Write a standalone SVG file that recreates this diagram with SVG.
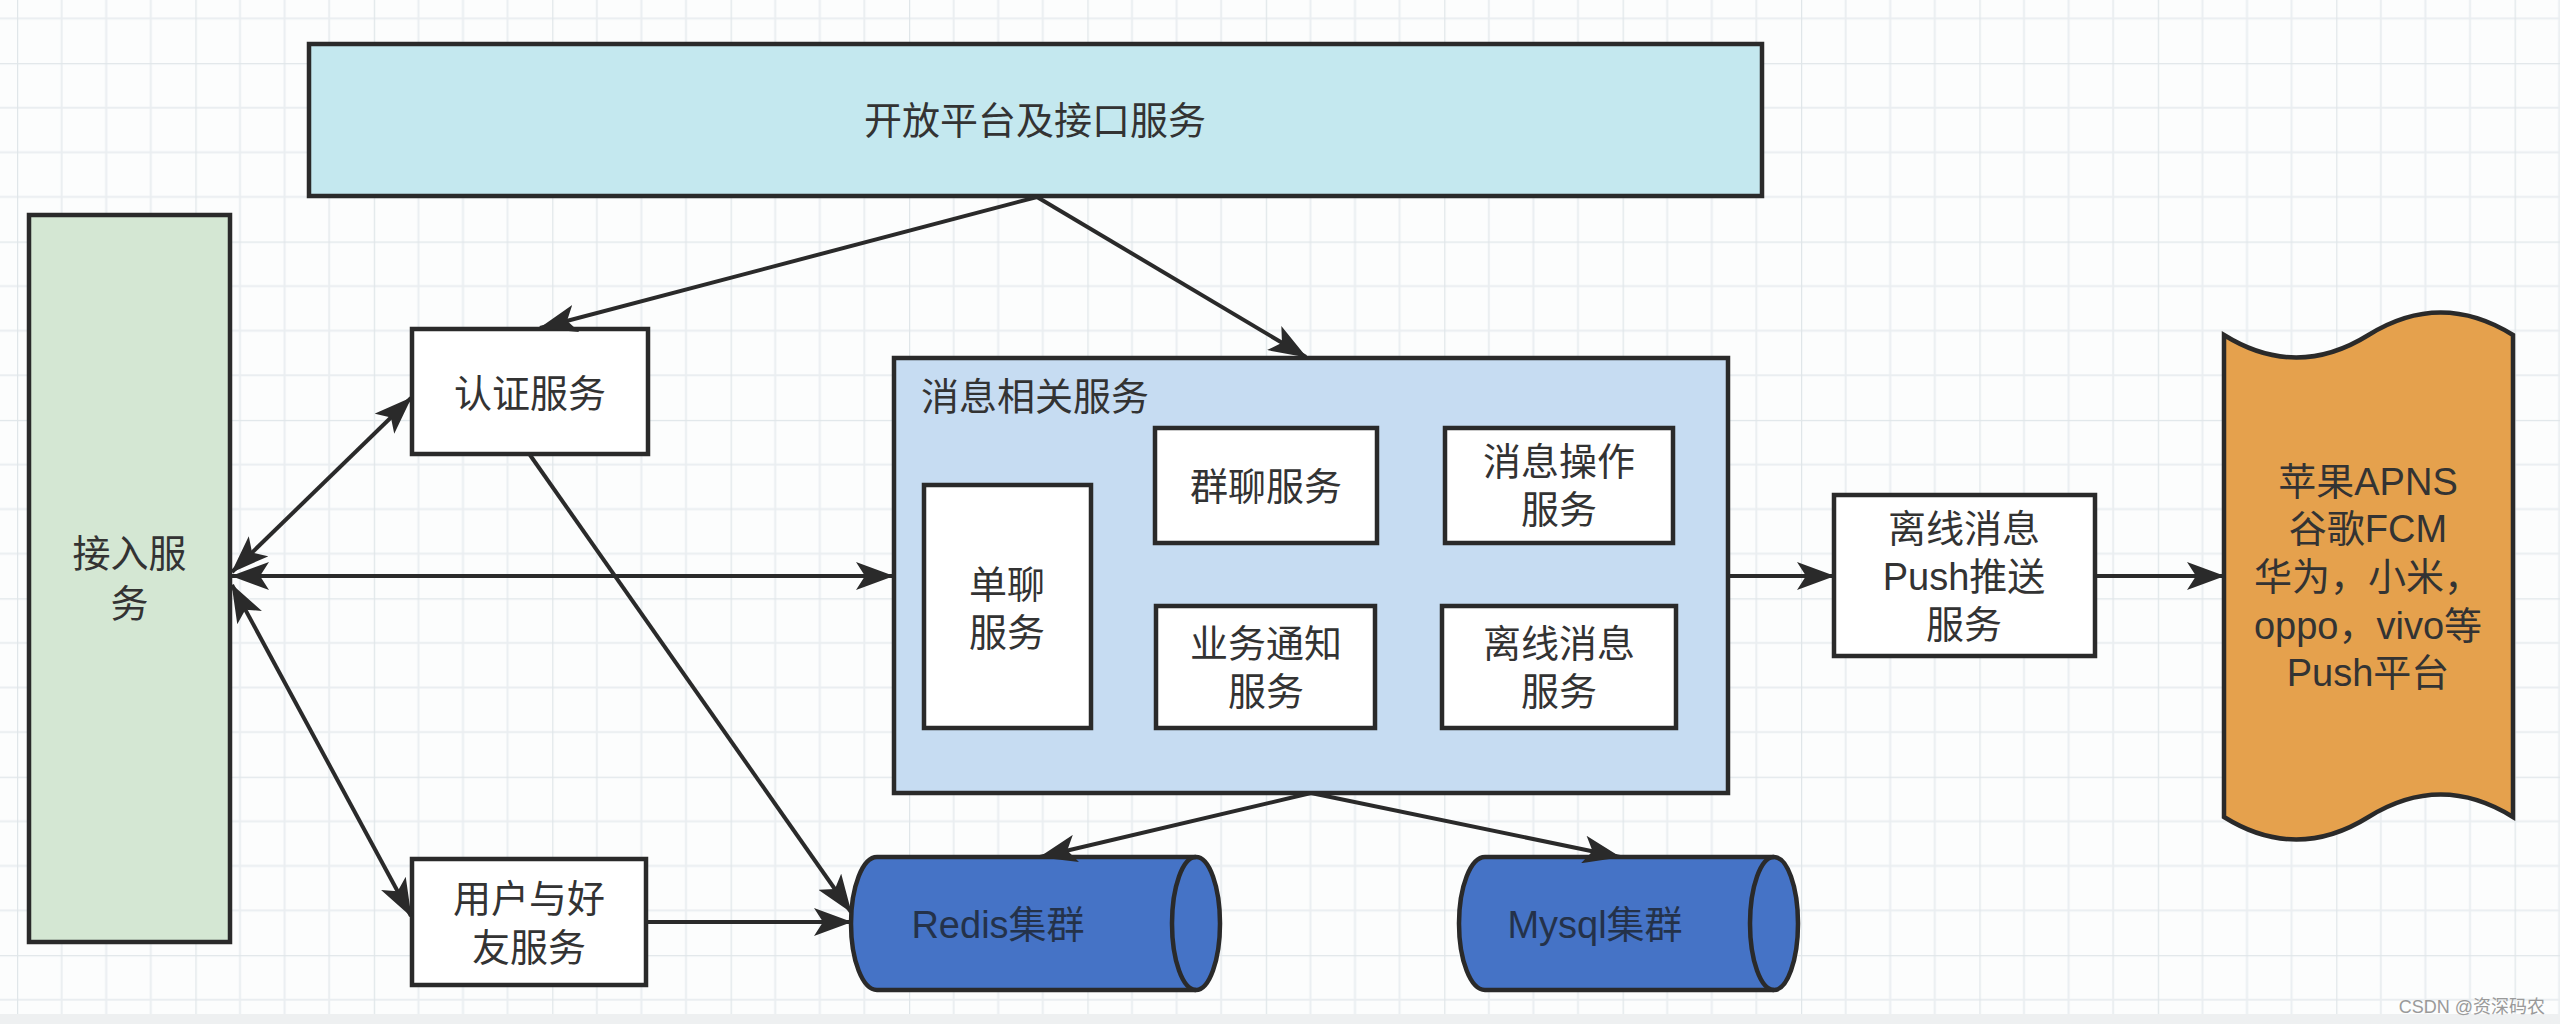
<svg xmlns="http://www.w3.org/2000/svg" width="2560" height="1024" viewBox="0 0 2560 1024">
<defs>
<pattern id="grid" x="17" y="63.1" width="178.4" height="178.4" patternUnits="userSpaceOnUse">
<path d="M44.6,0V178.4M89.2,0V178.4M133.8,0V178.4M0,44.6H178.4M0,89.2H178.4M0,133.8H178.4" stroke="#eaeef1" stroke-width="2" fill="none"/>
<path d="M0,0V178.4M0,0H178.4" stroke="#e0e6e9" stroke-width="2.5" fill="none"/>
</pattern>
<marker id="ah" viewBox="0 0 38 28" refX="37" refY="14" markerWidth="38" markerHeight="28" markerUnits="userSpaceOnUse" orient="auto-start-reverse">
<path d="M0,0 L38,14 L0,28 L9,14 Z" fill="#2a2a2a"/>
</marker>
<style>
.box{stroke:#2a2a2a;stroke-width:4.5}
.w{fill:#ffffff}
.t{font-family:"Liberation Sans","Noto Sans CJK SC",sans-serif;font-size:38px;fill:#333333;text-anchor:middle;dominant-baseline:central}
.ct{fill:#24324a}
.c{fill:none;stroke:#2a2a2a;stroke-width:4}
.a{marker-end:url(#ah)}
.b{marker-start:url(#ah);marker-end:url(#ah)}
</style>
</defs>
<rect width="2560" height="1024" fill="#fcfdfd"/>
<rect width="2560" height="1014" fill="url(#grid)"/>
<rect y="1014" width="2560" height="10" fill="#eef0f1"/>

<g id="open-platform">
<rect class="box" x="309" y="44" width="1453" height="152" fill="#c4e8ef"/>
<text class="t" x="1035" y="121">开放平台及接口服务</text>
</g>

<g id="access">
<rect class="box" x="29" y="215" width="201" height="727" fill="#d4e7d3"/>
<text class="t" x="129.5" y="554">接入服</text>
<text class="t" x="129.5" y="604">务</text>
</g>

<g id="auth">
<rect class="box w" x="412" y="329" width="236" height="125"/>
<text class="t" x="530" y="394">认证服务</text>
</g>

<g id="user-friend">
<rect class="box w" x="412" y="859" width="234" height="126"/>
<text class="t" x="529" y="899">用户与好</text>
<text class="t" x="529" y="948">友服务</text>
</g>

<g id="message-services">
<rect class="box" x="894" y="358" width="834" height="435" fill="#c6dcf2"/>
<text class="t" x="921" y="397" style="text-anchor:start">消息相关服务</text>
</g>

<g id="single-chat">
<rect class="box w" x="924" y="485" width="167" height="243"/>
<text class="t" x="1007" y="585">单聊</text>
<text class="t" x="1007" y="633">服务</text>
</g>

<g id="group-chat">
<rect class="box w" x="1155" y="428" width="222" height="115"/>
<text class="t" x="1266" y="487">群聊服务</text>
</g>

<g id="msg-op">
<rect class="box w" x="1445" y="428" width="228" height="115"/>
<text class="t" x="1559" y="462">消息操作</text>
<text class="t" x="1559" y="510">服务</text>
</g>

<g id="biz-notify">
<rect class="box w" x="1156" y="606" width="219" height="122"/>
<text class="t" x="1266" y="644">业务通知</text>
<text class="t" x="1266" y="692">服务</text>
</g>

<g id="offline-msg">
<rect class="box w" x="1442" y="606" width="234" height="122"/>
<text class="t" x="1559" y="644">离线消息</text>
<text class="t" x="1559" y="692">服务</text>
</g>

<g id="offline-push">
<rect class="box w" x="1834" y="495" width="261" height="161"/>
<text class="t" x="1964" y="529">离线消息</text>
<text class="t" x="1964" y="577">Push推送</text>
<text class="t" x="1964" y="625">服务</text>
</g>

<g id="push-platforms">
<path class="box" d="M2224,335 Q2296.25,380 2368.5,335 Q2440.75,290 2513,335 L2513,817 Q2440.75,772 2368.5,817 Q2296.25,862 2224,817 Z" fill="#e5a14d"/>
<text class="t" x="2368" y="482">苹果APNS</text>
<text class="t" x="2368" y="529">谷歌FCM</text>
<text class="t" x="2368" y="577">华为，小米，</text>
<text class="t" x="2368" y="626">oppo，vivo等</text>
<text class="t" x="2368" y="673">Push平台</text>
</g>

<g id="redis">
<path class="box" d="M877,857 L1196,857 A24,66.5 0 0 1 1196,990 L877,990 A26,66.5 0 0 1 877,857 Z" fill="#4573c6"/>
<path class="box" d="M1196,857 A24,66.5 0 0 0 1196,990" fill="none"/>
<text class="t ct" x="998" y="925">Redis集群</text>
</g>

<g id="mysql">
<path class="box" d="M1485,857 L1774,857 A24,66.5 0 0 1 1774,990 L1485,990 A26,66.5 0 0 1 1485,857 Z" fill="#4573c6"/>
<path class="box" d="M1774,857 A24,66.5 0 0 0 1774,990" fill="none"/>
<text class="t ct" x="1595" y="925">Mysql集群</text>
</g>

<g id="connectors">
<line class="c a" x1="1037" y1="197" x2="540" y2="328"/>
<line class="c a" x1="1037" y1="197" x2="1306" y2="357"/>
<line class="c b" x1="232" y1="572" x2="411" y2="398"/>
<line class="c b" x1="232" y1="576" x2="893" y2="576"/>
<line class="c b" x1="232" y1="585" x2="411" y2="916"/>
<line class="c a" x1="530" y1="455" x2="851" y2="912"/>
<line class="c a" x1="648" y1="922" x2="851" y2="922"/>
<line class="c a" x1="1311" y1="793" x2="1040" y2="857"/>
<line class="c a" x1="1311" y1="793" x2="1620" y2="857"/>
<line class="c a" x1="1728" y1="576" x2="1834" y2="576"/>
<line class="c a" x1="2095" y1="576" x2="2224" y2="576"/>
</g>

<text x="2545" y="1007" style="font-family:'Liberation Sans','Noto Sans CJK SC',sans-serif;font-size:18px;fill:#9a9a9a;text-anchor:end;dominant-baseline:central">CSDN @资深码农</text>
</svg>
